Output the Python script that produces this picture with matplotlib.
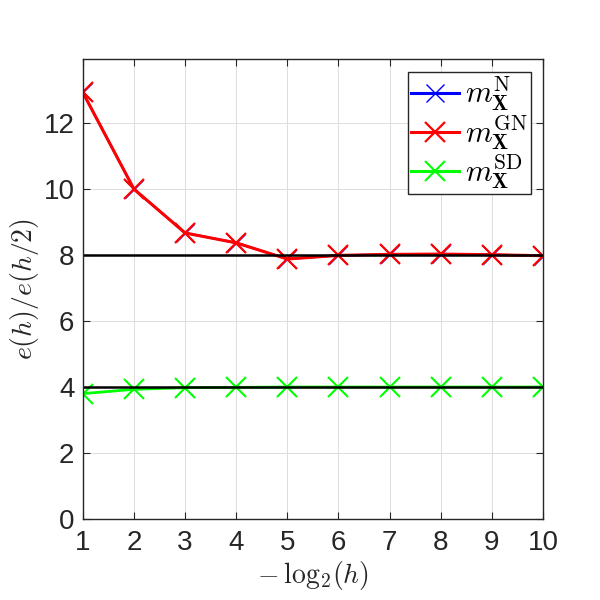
import matplotlib
matplotlib.use("Agg")
import matplotlib.pyplot as plt

plt.rcParams['mathtext.fontset'] = 'cm'
plt.rcParams['font.family'] = ['Liberation Sans', 'DejaVu Sans']

levels = [1, 2, 3, 4, 5, 6, 7, 8, 9, 10]
ratio_N = [12.93, 10.0, 8.67, 8.37, 7.88, 7.99, 8.02, 8.03, 8.01, 7.98]
ratio_GN = [12.93, 10.0, 8.67, 8.37, 7.88, 7.99, 8.02, 8.03, 8.01, 7.98]
ratio_SD = [3.80, 3.93, 3.98, 3.99, 4.0, 4.0, 4.0, 4.0, 4.0, 4.0]
ref_levels = [8, 4]
labels = [r'$m_{\mathbf{X}}^{\mathrm{N}}$', r'$m_{\mathbf{X}}^{\mathrm{GN}}$', r'$m_{\mathbf{X}}^{\mathrm{SD}}$']

fig = plt.figure(figsize=(6, 6), dpi=100)
ax = fig.add_axes([0.138, 0.135, 0.767, 0.766])

ms = 14
ax.plot(levels, ratio_N, color='#0000ff', marker='x', ms=ms - 1, mew=1.0, lw=1.6, label=labels[0])
ax.plot(levels, ratio_GN, color='#ff0000', marker='x', ms=ms, mew=1.6, lw=2.2, label=labels[1])
ax.plot(levels, ratio_SD, color='#00ff00', marker='x', ms=ms, mew=1.5, lw=2, label=labels[2])
for r in ref_levels:
    ax.plot([levels[0], levels[-1]], [r, r], color='k', lw=1.8)

ax.set_xlim(1, 10)
ax.set_ylim(0, 13.93)
ax.set_xticks(levels)
ax.set_yticks([0, 2, 4, 6, 8, 10, 12])
ax.grid(True, color='#dddddd', lw=0.7)
ax.set_axisbelow(True)
ax.tick_params(direction='in', top=True, right=True, labelsize=20, colors='#262626',
               length=5, width=0.8)
ax.tick_params(axis='x', pad=8)
ax.tick_params(axis='y', pad=6)
for s in ax.spines.values():
    s.set_color('#262626')
    s.set_linewidth(1.0)

ax.set_xlabel(r'$-\:\mathrm{log}_2(h)$', fontsize=20, color='#262626', labelpad=2)
ax.set_ylabel(r'$e(h)/e(h/2)$', fontsize=20, color='#262626', labelpad=2)

leg = ax.legend(loc='upper right', fontsize=22, fancybox=False, framealpha=1,
                edgecolor='#262626', handlelength=1.55, handletextpad=0.2,
                borderpad=0.1, labelspacing=0.0, borderaxespad=0.4)
leg.get_frame().set_linewidth(1.0)
for h in leg.get_lines():
    h.set_linewidth(2.2)

fig.savefig('out.png', dpi=100)
